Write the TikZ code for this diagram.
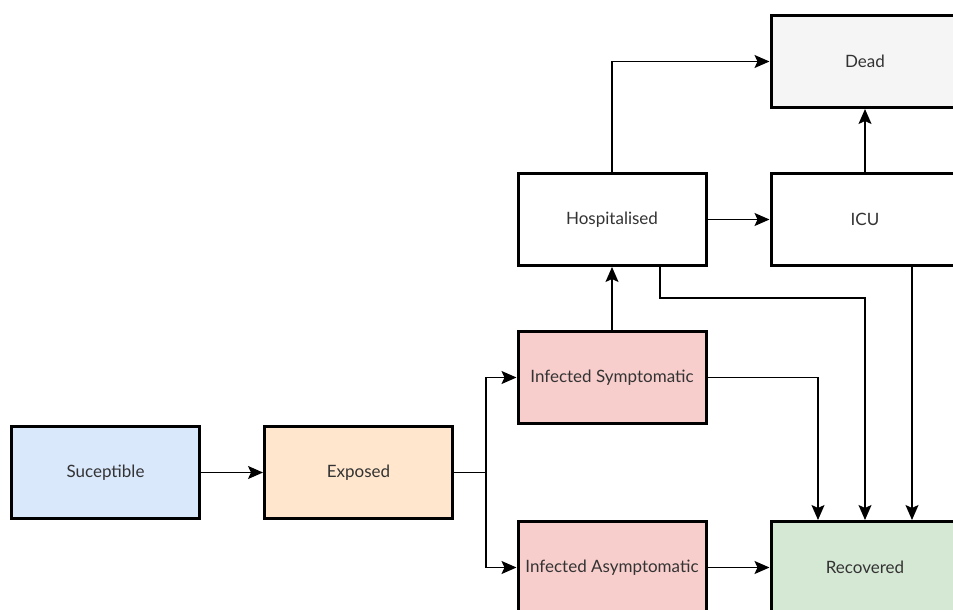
\documentclass[tikz,border=0pt]{standalone}
\usepackage{fontspec}
\setmainfont{Lato}
\usetikzlibrary{arrows.meta}
\definecolor{susc}{HTML}{DAE8FC}
\definecolor{expo}{HTML}{FFE6CC}
\definecolor{infc}{HTML}{F8CECC}
\definecolor{deadc}{HTML}{F5F5F5}
\definecolor{recc}{HTML}{D5E8D4}
\definecolor{txt}{HTML}{333333}
\begin{document}
\begin{tikzpicture}
  [x=1pt,y=-1pt,
   every node/.style={rectangle,draw=black,line width=3pt,minimum width=188pt,
     minimum height=92pt,text=txt,font=\fontsize{17}{20}\selectfont},
   flow/.style={-{Stealth[length=15pt,width=13pt,inset=3pt]},line width=1.4pt}]
  \clip (0,0) rectangle (953,610);
  \node[fill=susc] (sus) at (105.5,472.5) {Suceptible};
  \node[fill=expo] (exp) at (358.5,472.5) {Exposed};
  \node[fill=infc] (isym) at (612,377.5) {Infected Symptomatic};
  \node[fill=infc] (iasy) at (612,567.5) {Infected Asymptomatic};
  \node[fill=white] (hosp) at (612,219.5) {Hospitalised};
  \node[fill=white] (icu) at (865,219.5) {ICU};
  \node[fill=deadc] (dead) at (865,61.5) {Dead};
  \node[fill=recc] (rec) at (865,567.5) {Recovered};
 \path[flow, draw]
        (sus) edge (exp)
        (isym) edge (hosp)
        (hosp) edge (icu)
        (icu) edge (dead)
        (iasy) edge (rec);
 \draw[flow] (exp.east) -- ++(32,0) |- (isym.west);
 \draw[flow] (exp.east) -- ++(32,0) |- (iasy.west);
 \draw[flow] (hosp.north) |- (dead.west);
 \draw[flow] ([xshift=48pt]hosp.south) -- ++(0,31) -| (rec.north);
 \draw[flow] ([xshift=47pt]icu.south) -- ([xshift=47pt]rec.north);
 \draw[flow] (isym.east) -| ([xshift=-47pt]rec.north);

\end{tikzpicture}
\end{document}
